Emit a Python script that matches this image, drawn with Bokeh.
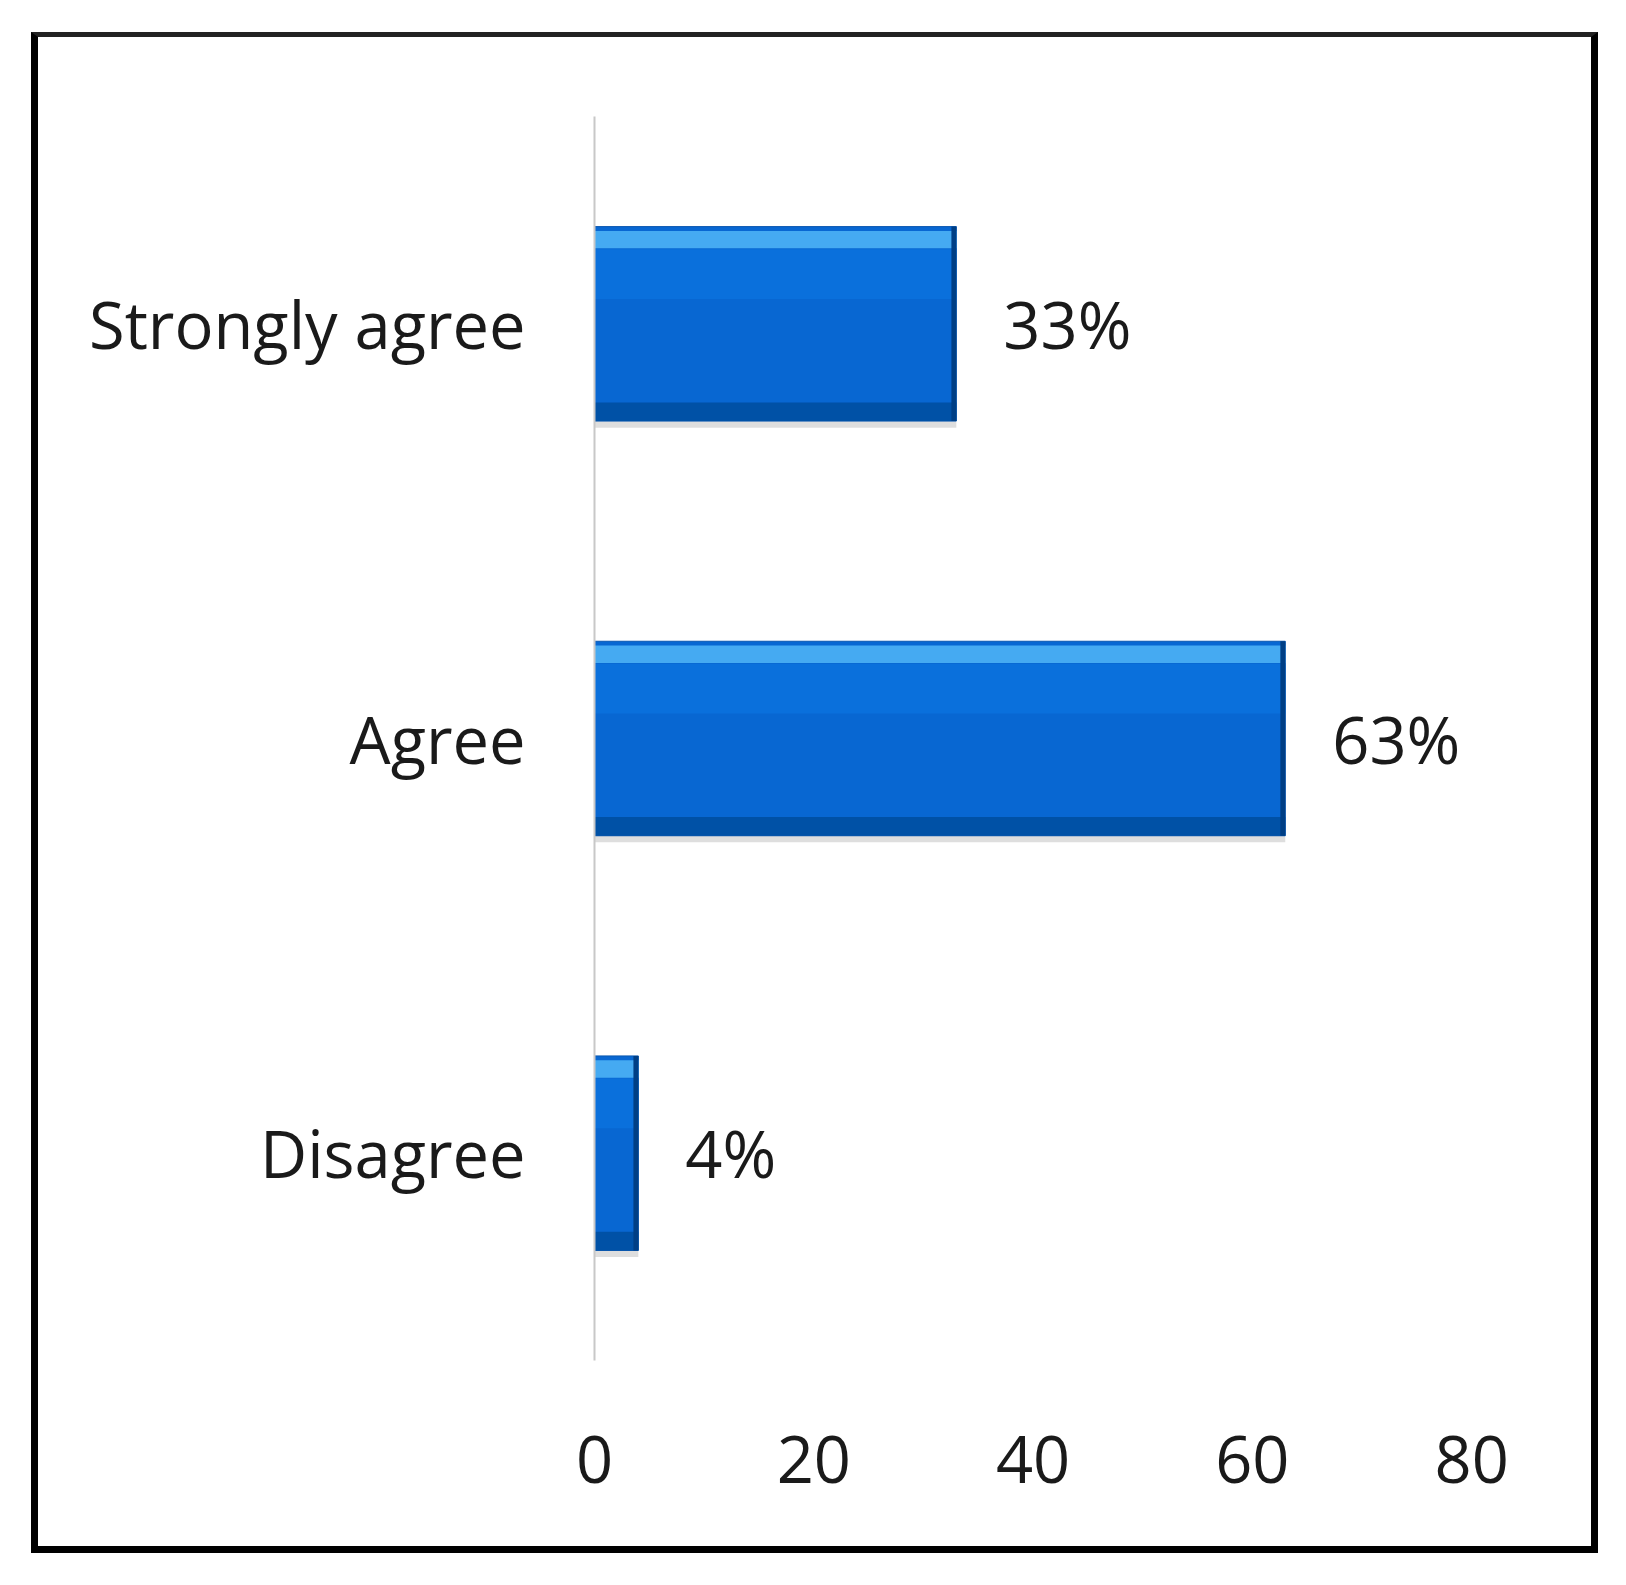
from bokeh.plotting import figure
from bokeh.models import Range1d, FactorRange, FixedTicker, ColumnDataSource, InlineStyleSheet
from bokeh.transform import dodge
from bokeh.core.properties import value
from bokeh.embed import file_html
from bokeh.resources import INLINE

categories = ["Strongly agree", "Agree", "Disagree"]
values = [33, 63, 4]
value_labels = ["33%", "63%", "4%"]
x_ticks = [0, 20, 40, 60, 80]

FONT = "Open Sans"
FS = "65px"

src = ColumnDataSource(dict(
    cat=categories,
    val=values,
    label=value_labels,
    edge=[v - 0.45 for v in values],
))

y_range = FactorRange(factors=list(reversed(categories)))
p = figure(width=1610, height=1569, x_range=Range1d(0, 85), y_range=y_range,
           output_backend="svg", toolbar_location=None,
           min_border_left=594, min_border_top=116, min_border_bottom=209, min_border_right=84)

p.xgrid.visible = False
p.ygrid.visible = False
p.outline_line_color = None
p.background_fill_color = "white"
p.border_fill_color = "white"

BAR_H = 0.469
# soft shadow
p.hbar(y=dodge("cat", -0.016, range=y_range), left=0, right="val", height=BAR_H, source=src,
       fill_color="black", fill_alpha=0.13, line_color=None)
# main bar
p.hbar(y="cat", left=0, right="val", height=BAR_H, source=src,
       fill_color="#0867d2", line_color="#0a57b0", line_width=1)
# upper lighter tone
p.hbar(y=dodge("cat", 0.12, range=y_range), left=0, right="val", height=0.12, source=src,
       fill_color="#0a70dc", line_color=None)
# top highlight band
p.hbar(y=dodge("cat", 0.203, range=y_range), left=0, right="val", height=0.042, source=src,
       fill_color="#45aaf2", line_color=None)
# bottom dark band
p.hbar(y=dodge("cat", -0.212, range=y_range), left=0, right="val", height=0.045, source=src,
       fill_color="#0051a6", line_color=None)
# right dark edge
p.hbar(y="cat", left="edge", right="val", height=BAR_H, source=src,
       fill_color="#003f85", line_color=None)

p.text(x="val", y="cat", text="label", source=src, x_offset=47,
       text_align="left", text_baseline="middle",
       text_font=value(FONT), text_font_size=FS, text_color="#1a1a1a")

p.xaxis.ticker = FixedTicker(ticks=x_ticks)
p.xaxis.axis_line_color = None
p.xaxis.major_tick_line_color = None
p.xaxis.minor_tick_line_color = None
p.xaxis.major_label_standoff = 69
p.xaxis.major_label_text_font = FONT
p.xaxis.major_label_text_font_size = FS
p.xaxis.major_label_text_color = "#1a1a1a"

p.yaxis.axis_line_color = "#c8c8c8"
p.yaxis.axis_line_width = 2
p.yaxis.major_tick_line_color = None
p.yaxis.minor_tick_line_color = None
p.yaxis.major_label_standoff = 63
p.yaxis.major_label_text_font = FONT
p.yaxis.major_label_text_font_size = FS
p.yaxis.major_label_text_color = "#1a1a1a"

# outer frame border around the whole chart
p.stylesheets = [InlineStyleSheet(css=":host::after {content:''; position:absolute; left:31px; top:32px; "
                                  "width:1567px; height:1521px; border:7px solid #000; border-top:5px solid #222; "
                                  "box-sizing:border-box; pointer-events:none;}")]

open("out.html", "w").write(file_html(p, INLINE))
